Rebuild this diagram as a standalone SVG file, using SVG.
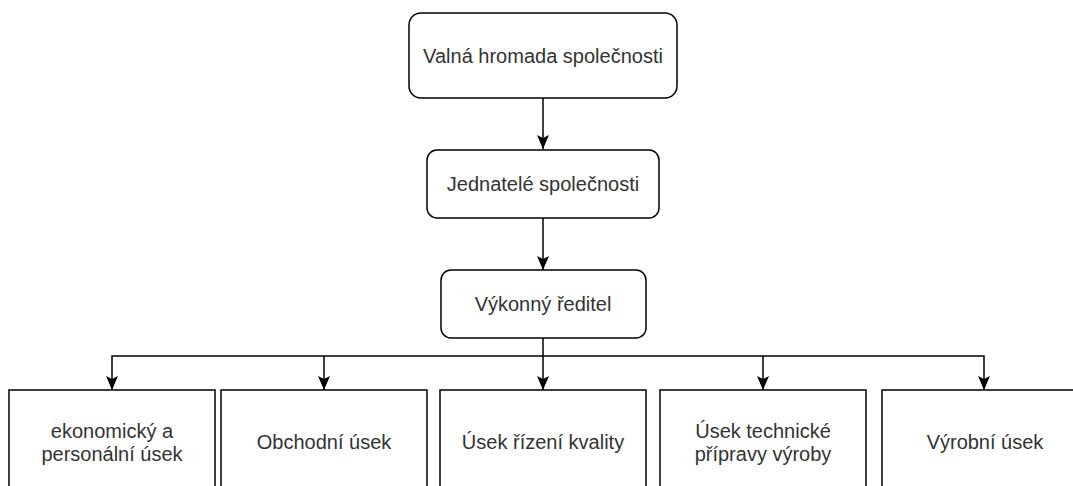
<svg xmlns="http://www.w3.org/2000/svg" width="1073" height="486" viewBox="0 0 1073 486">
  <style>
    .box { fill: #ffffff; stroke: #000000; stroke-width: 1.5; }
    .lbl { font-family: "Liberation Sans", Arial, sans-serif; font-size: 20px; fill: #333333; text-anchor: middle; }
    .edge { fill: none; stroke: #000000; stroke-width: 1.5; }
  </style>
  <defs>
    <!-- classic notched arrowhead, tip at the path end -->
    <marker id="arrow" viewBox="0 0 14 12" refX="14" refY="6" markerWidth="14" markerHeight="12" markerUnits="userSpaceOnUse" orient="auto-start-reverse">
      <path d="M0 0 L14 6 L0 12 L3 6 Z" fill="#000000"/>
    </marker>
  </defs>
  <rect width="1073" height="486" fill="#ffffff"/>

  <g id="connectors">
    <path class="edge" d="M543 98 V149" marker-end="url(#arrow)"/>
    <path class="edge" d="M543 218 V270" marker-end="url(#arrow)"/>
    <path class="edge" d="M543 338 V390" marker-end="url(#arrow)"/>
    <path class="edge" d="M112 390 V356 H984 V390" marker-start="url(#arrow)" marker-end="url(#arrow)"/>
    <path class="edge" d="M324 356 V390" marker-end="url(#arrow)"/>
    <path class="edge" d="M763 356 V390" marker-end="url(#arrow)"/>
  </g>

  <g id="valna-hromada">
    <rect class="box" x="409" y="13" width="268" height="85" rx="12"/>
    <text class="lbl" x="543" y="63">Valná hromada společnosti</text>
  </g>
  <g id="jednatele">
    <rect class="box" x="427" y="150" width="232" height="68" rx="10"/>
    <text class="lbl" x="543" y="191">Jednatelé společnosti</text>
  </g>
  <g id="vykonny-reditel">
    <rect class="box" x="441" y="270" width="205" height="68" rx="10"/>
    <text class="lbl" x="543" y="311">Výkonný ředitel</text>
  </g>

  <g id="ekonomicky-usek">
    <rect class="box" x="9" y="390" width="206" height="110"/>
    <text class="lbl" x="112" y="438">ekonomický a</text>
    <text class="lbl" x="112" y="461">personální úsek</text>
  </g>
  <g id="obchodni-usek">
    <rect class="box" x="221" y="390" width="206" height="110"/>
    <text class="lbl" x="324" y="449">Obchodní úsek</text>
  </g>
  <g id="usek-rizeni-kvality">
    <rect class="box" x="440" y="390" width="206" height="110"/>
    <text class="lbl" x="543" y="449">Úsek řízení kvality</text>
  </g>
  <g id="usek-technicke-pripravy">
    <rect class="box" x="660" y="390" width="206" height="110"/>
    <text class="lbl" x="763" y="438">Úsek technické</text>
    <text class="lbl" x="763" y="461">přípravy výroby</text>
  </g>
  <g id="vyrobni-usek">
    <rect class="box" x="882" y="390" width="206" height="110"/>
    <text class="lbl" x="985" y="449">Výrobní úsek</text>
  </g>
</svg>
